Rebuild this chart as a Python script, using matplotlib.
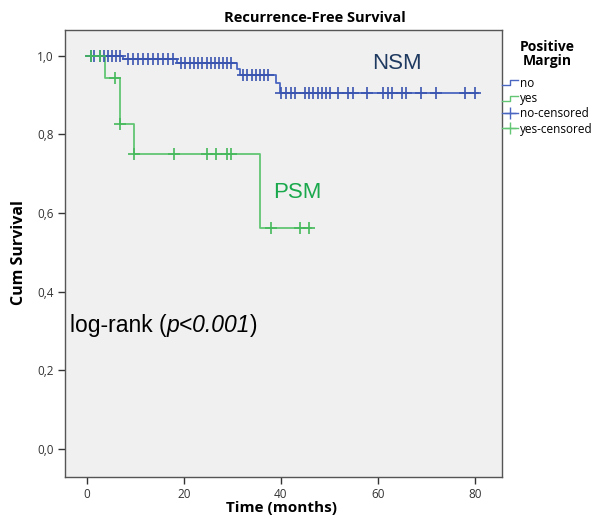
import numpy as np
import matplotlib
matplotlib.use("Agg")
import matplotlib.pyplot as plt
from matplotlib.lines import Line2D
from matplotlib.legend_handler import HandlerLine2D
from matplotlib.transforms import offset_copy

# ---- data ----
nsm_times = [0, 7.4, 18.5, 30.9, 31.5, 39.0, 39.8]
nsm_surv = [1.0, 0.991, 0.980, 0.965, 0.950, 0.930, 0.906]
nsm_end = 80.6
nsm_censor = [0.8, 1.5, 2.7, 3.5, 4.4, 5.2, 6.1, 6.8,
              8.5, 9.5, 10.6, 11.6, 12.6, 13.7, 14.7, 15.7, 16.8, 17.8,
              19.5, 20.3, 21.2, 22.1, 22.9, 23.8, 24.7, 25.5, 26.4, 27.2, 28.1, 28.9, 29.8,
              32.2, 33.1, 34.0, 34.8, 35.7, 36.6, 37.4,
              40.1, 41.0, 42.0, 42.9,
              45.0, 45.8, 46.7, 47.6, 48.4, 49.3, 50.1,
              51.7, 53.9, 54.9, 57.8,
              61.1, 62.1, 63.0, 64.9, 65.8, 69.0, 72.0, 78.0, 80.0]

psm_times = [0, 3.7, 6.8, 9.7, 35.8]
psm_surv = [1.0, 0.944, 0.826, 0.751, 0.563]
psm_end = 46.3
psm_censor = [0.8, 2.7, 5.8, 6.8, 9.7, 17.9, 24.7, 26.7, 28.8, 29.7, 37.9, 43.9, 45.8]

x_ticks = [0, 20, 40, 60, 80]
y_ticks = [0.0, 0.2, 0.4, 0.6, 0.8, 1.0]
y_ticklabels = ["0,0", "0,2", "0,4", "0,6", "0,8", "1,0"]

blue = '#4a66c0'
blue_dark = '#3a55b0'
green = '#62c674'
green_dark = '#45b95c'

fig = plt.figure(figsize=(6.07, 5.16), dpi=100)
fig.patch.set_facecolor('white')
ax = fig.add_axes([65/607, 1-477/516, (502-65)/607, (477-30)/516])
ax.set_facecolor('#f0f0f0')


def km_value(times, surv, t):
    idx = np.searchsorted(times, t, side='right') - 1
    return np.asarray(surv)[idx]


def draw(times, surv, end, censor, lc, mc):
    xs = list(times) + [end]
    ys = list(surv) + [surv[-1]]
    ax.step(xs, ys, where='post', color=lc, lw=1.3, zorder=3)
    cy = [km_value(times, surv, t) for t in censor]
    ax.plot(censor, cy, linestyle='none', marker='+', ms=8, mew=1.2,
            color=mc, zorder=4)


draw(nsm_times, nsm_surv, nsm_end, nsm_censor, blue, blue_dark)
draw(psm_times, psm_surv, psm_end, psm_censor, green, green_dark)

ax.set_xlim(-4.5, 85.6)
ax.set_ylim(-0.071, 1.065)
ax.set_xticks(x_ticks)
ax.set_xticklabels([str(v) for v in x_ticks], fontsize=8.5, color='#333333', family='Open Sans')
ax.set_yticks(y_ticks)
ax.set_yticklabels(y_ticklabels, fontsize=8.5, color='#333333', family='Open Sans')
ax.tick_params(direction='out', length=5, width=1, color='#333333', pad=3)
for s in ax.spines.values():
    s.set_color('#555555')
    s.set_linewidth(1.0)

fig.text(282/607, 1-508/516, "Time (months)", ha='center', va='center',
         fontsize=11, fontweight='bold', family='Open Sans')
fig.text(19/607, 1-253/516, "Cum Survival", ha='center', va='center',
         rotation=90, fontsize=11.5, fontweight='bold', family='Open Sans')
fig.text(315/607, 1-18/516, "Recurrence-Free Survival", ha='center', va='center',
         fontsize=10.5, fontweight='bold', family='Open Sans')

ax.text(64.0, 0.980, "NSM", ha='center', va='center', fontsize=16,
        color='#1f3a60', family='Liberation Sans')
ax.text(43.5, 0.652, "PSM", ha='center', va='center', fontsize=16,
        color='#1aa84c', family='Liberation Sans')

# log-rank annotation, built from pieces (regular / italic / regular)
fig.canvas.draw()
renderer = fig.canvas.get_renderer()
pieces = [("log-rank (", 'normal'), ("p<0.001", 'italic'), (")", 'normal')]
x_off = 0.0
for txt, style in pieces:
    tr = offset_copy(ax.transData, fig=fig, x=x_off, y=0, units='points')
    t = ax.text(-3.5, 0.315, txt, ha='left', va='center', fontsize=16.5,
                color='black', family='Liberation Sans', style=style,
                transform=tr)
    bb = t.get_window_extent(renderer=renderer)
    x_off += bb.width * 72.0 / fig.dpi


class StepHandler(HandlerLine2D):
    def create_artists(self, legend, orig_handle, xdescent, ydescent,
                       width, height, fontsize, trans):
        x0 = -xdescent
        y0 = -ydescent + height * 0.15
        y1 = -ydescent + height * 0.75
        xs = [x0, x0 + width * 0.5, x0 + width * 0.5, x0 + width]
        ys = [y0, y0, y1, y1]
        line = Line2D(xs, ys, color=orig_handle.get_color(), lw=1.0)
        line.set_transform(trans)
        return [line]


h_no = Line2D([], [], color=blue)
h_yes = Line2D([], [], color=green)
h_noc = Line2D([], [], color=blue, marker='+', ms=9, mew=1.0, lw=1.0)
h_yesc = Line2D([], [], color=green, marker='+', ms=9, mew=1.0, lw=1.0)
leg = fig.legend([h_no, h_yes, h_noc, h_yesc],
                 ["no", "yes", "no-censored", "yes-censored"],
                 handler_map={h_no: StepHandler(), h_yes: StepHandler()},
                 loc='upper left', bbox_to_anchor=(501/607, 1-39/516),
                 frameon=False, handlelength=1.3,
                 handletextpad=0.2, labelspacing=0.2, borderaxespad=0,
                 borderpad=0.1, title="Positive\nMargin",
                 prop={'family': 'Open Sans', 'size': 8.5})
title = leg.get_title()
title.set_fontweight('bold')
title.set_fontsize(10)
title.set_family('Open Sans')
title.set_multialignment('center')
title.set_linespacing(1.0)
leg._legend_box.align = "center"
leg._legend_box.sep = 6

fig.savefig("out.png", dpi=100)
